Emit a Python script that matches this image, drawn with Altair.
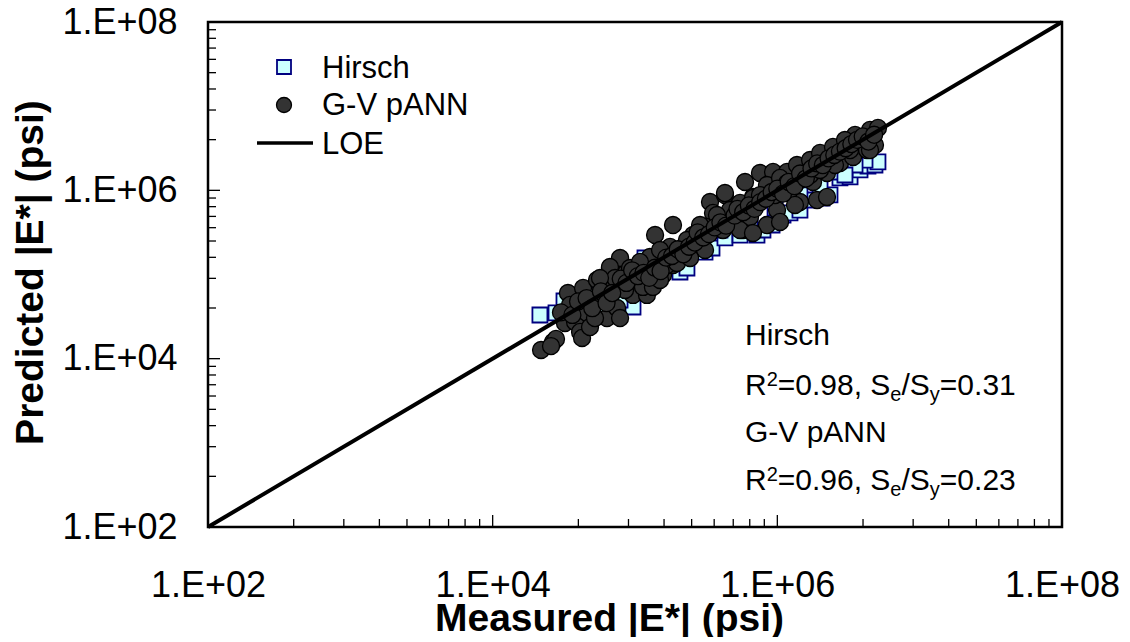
import altair as alt
import pandas as pd

# ---------------- data ----------------
# G-V pANN : log10 of measured and predicted |E*| (psi)
gv_meas_log = [
    4.340, 4.424, 4.445, 4.410,
    4.529, 4.635, 4.733, 4.775, 4.824, 4.860, 4.895,
    4.508, 4.579, 4.614, 4.663, 4.628, 4.684, 4.803, 4.874, 4.895, 4.986, 5.056, 5.084, 4.937, 5.105, 5.197, 5.267,
    5.527, 5.632, 5.738, 5.829, 5.548, 5.667, 5.787, 5.689, 5.759, 5.506, 5.408, 5.492, 5.365, 5.267, 5.246, 5.141,
    5.105, 5.225, 5.295, 5.387, 4.895, 4.824, 4.965, 4.860, 4.986, 5.056, 5.126, 4.754, 5.176,
    5.773, 5.878, 5.970, 6.068, 6.138, 6.230, 6.300, 6.391, 6.490, 6.581, 5.632, 5.829, 5.927, 6.019, 6.068, 6.159,
    6.251, 6.349, 6.440, 6.532, 6.630, 5.667, 5.808, 5.927, 5.998, 6.019, 6.159, 6.279, 6.349, 5.618, 5.738, 5.829,
    6.651, 6.707, 6.616, 6.686, 6.546, 6.475, 6.651,
    5.457, 5.576, 5.351, 5.176, 5.035, 4.930, 4.733, 4.789, 4.543, 4.719, 5.878, 6.089, 6.230, 6.405, 6.511, 6.300,
    6.124, 5.984,
    4.48, 4.56, 4.60, 4.66, 4.70, 4.76, 4.80, 4.84, 4.90, 4.94, 4.98, 5.02, 5.06, 5.10, 5.14, 5.18, 5.22, 5.26,
    5.30, 5.34, 5.38, 5.42, 5.44, 5.48, 5.52, 5.56, 5.60, 5.64, 5.70, 5.72, 5.76, 5.80, 5.84, 5.88, 5.92, 5.96,
    6.00, 6.04, 6.08, 6.12, 6.16, 6.20, 6.24, 6.28, 6.32, 6.36, 6.40, 6.44, 6.48, 6.52, 6.56, 6.60, 6.64, 6.68,
]
gv_pred_log = [
    4.103, 4.198, 4.234, 4.150,
    4.780, 4.840, 4.935, 4.899, 5.077, 4.970, 4.875,
    4.424, 4.436, 4.317, 4.543, 4.246, 4.376, 4.483, 4.602, 4.483, 4.757, 4.875, 4.757, 5.018, 5.089, 4.994, 5.113,
    5.861, 5.945, 5.850, 5.921, 5.731, 5.766, 5.671, 5.612, 5.529, 5.564, 5.469, 5.291, 5.410, 5.588, 5.327, 5.469,
    5.208, 5.113, 5.137, 5.196, 5.196, 5.089, 5.077, 4.958, 4.958, 4.852, 4.852, 4.958, 4.935,
    6.099, 6.206, 6.218, 6.218, 6.301, 6.360, 6.444, 6.515, 6.562, 6.562, 5.968, 5.909, 6.063, 6.147, 6.087, 6.123,
    6.099, 6.206, 6.325, 6.396, 6.479, 5.612, 5.683, 5.588, 5.766, 5.624, 5.861, 5.885, 5.921, 5.529, 5.529, 5.493,
    6.717, 6.741, 6.622, 6.539, 6.658, 6.598, 6.479,
    5.588, 5.707, 5.291, 5.291, 5.149, 4.816, 4.697, 4.757, 4.638, 4.483, 5.944, 6.004, 6.182, 6.301, 6.479, 6.242,
    5.826, 5.944,
    4.55, 4.52, 4.68, 4.72, 4.60, 4.80, 4.66, 4.78, 4.95, 4.90, 5.05, 4.98, 5.02, 4.96, 5.08, 5.04, 5.20, 5.22,
    5.30, 5.24, 5.33, 5.38, 5.50, 5.44, 5.48, 5.56, 5.62, 5.58, 5.70, 5.78, 5.74, 5.82, 5.78, 5.86, 5.90, 5.98,
    6.02, 5.96, 6.10, 6.05, 6.20, 6.14, 6.26, 6.32, 6.30, 6.38, 6.42, 6.46, 6.50, 6.55, 6.60, 6.64, 6.58, 6.66,
]
# Hirsch : log10 of measured and predicted |E*| (psi)
hirsch_meas_log = [
    4.332, 4.445, 4.501, 4.557, 4.649, 4.754, 4.986, 4.895, 5.070, 5.119, 5.316, 5.365, 5.492, 5.541, 5.457, 5.632,
    5.738, 5.857, 5.899, 5.963, 6.040, 6.089, 6.159, 6.244, 6.314, 6.370, 6.440, 6.511, 6.426, 6.581, 6.637, 6.686,
    6.707, 6.616, 6.546, 4.684, 4.824, 5.035, 5.176, 5.387, 5.597, 5.808, 5.984, 6.159, 6.300, 6.475,
]
hirsch_pred_log = [
    4.519, 4.543, 4.685, 4.697, 4.578, 4.638, 4.614, 4.697, 5.196, 5.149, 5.030, 5.077, 5.267, 5.315, 5.410, 5.434,
    5.469, 5.469, 5.529, 5.588, 5.707, 5.731, 5.766, 5.885, 5.909, 5.945, 6.147, 6.159, 6.218, 6.242, 6.289, 6.301,
    6.337, 6.360, 6.301, 4.757, 4.875, 5.053, 5.149, 5.351, 5.529, 5.624, 5.790, 5.945, 6.063, 6.182,
]
loe_values = [1e2, 1e8]

axis_ticks = [1e2, 1e4, 1e6, 1e8]
axis_tick_labels = ["1.E+02", "1.E+04", "1.E+06", "1.E+08"]
minor_multipliers = [4, 9, 16, 25, 36, 49, 64, 81]

series_names = ["Hirsch", "G-V pANN", "LOE"]
x_title = "Measured |E*| (psi)"
y_title = "Predicted |E*| (psi)"

# ---------------- tables ----------------
gv = pd.DataFrame({"m": [10 ** v for v in gv_meas_log], "p": [10 ** v for v in gv_pred_log]})
hi = pd.DataFrame({"m": [10 ** v for v in hirsch_meas_log], "p": [10 ** v for v in hirsch_pred_log]})
loe = pd.DataFrame({"m": loe_values, "p": loe_values})
major = pd.DataFrame({"m": axis_ticks, "p": axis_ticks})
minor_vals = [b * k for b in axis_ticks[:-1] for k in minor_multipliers]
minor = pd.DataFrame({"m": minor_vals, "p": minor_vals})

W, H = 854, 505
FONT = "Liberation Sans"

xs = alt.Scale(type="log", domain=[1e2, 1e8], nice=False)
ys = alt.Scale(type="log", domain=[1e2, 1e8], nice=False)

label_expr = " : ".join(
    f"datum.value == {v:g} ? '{l}'" for v, l in zip(axis_ticks, axis_tick_labels)
) + " : ''"

xaxis = alt.Axis(
    values=axis_ticks, labelExpr=label_expr, title=x_title,
    titleFont=FONT, titleFontSize=39, titleFontWeight="bold", titleColor="black",
    titleX=401, titleY=103, titleBaseline="alphabetic", titleAlign="center",
    labelFont=FONT, labelFontSize=36, labelColor="black", labelPadding=41, labelBaseline="top",
    labelFlush=False, labelOverlap=False, ticks=False, tickSize=0, domain=False, grid=False,
)
yaxis = alt.Axis(
    values=axis_ticks, labelExpr=label_expr, title=y_title,
    titleFont=FONT, titleFontSize=39, titleFontWeight="bold", titleColor="black",
    titleAngle=270, titleX=-166, titleY=250, titleBaseline="alphabetic", titleAlign="center",
    labelFont=FONT, labelFontSize=36, labelColor="black", labelPadding=31, labelAlign="right",
    labelBaseline="middle", labelFlush=False, labelOverlap=False, ticks=False, tickSize=0,
    domain=False, grid=False,
)

X = alt.X("m:Q", scale=xs, axis=xaxis)
Y = alt.Y("p:Q", scale=ys, axis=yaxis)

hirsch_pts = alt.Chart(hi).mark_point(
    shape="square", filled=True, fill="#CCFFFF", stroke="#000080", strokeWidth=1.8,
    size=225, opacity=1,
).encode(x=X, y=Y)

gv_pts = alt.Chart(gv).mark_point(
    shape="circle", filled=True, fill="#333333", stroke="#000000", strokeWidth=1.3,
    size=290, opacity=1,
).encode(x=X, y=Y)

loe_line = alt.Chart(loe).mark_line(color="black", strokeWidth=4).encode(x=X, y=Y)

# inward ticks
x_major = alt.Chart(major).mark_rule(color="black", strokeWidth=1.3).encode(
    x=X, y=alt.value(H), y2=alt.value(H - 12))
x_minor = alt.Chart(minor).mark_rule(color="black", strokeWidth=1.3).encode(
    x=X, y=alt.value(H), y2=alt.value(H - 8))
y_major = alt.Chart(major).mark_rule(color="black", strokeWidth=1.3).encode(
    y=Y, x=alt.value(0), x2=alt.value(12))
y_minor = alt.Chart(minor).mark_rule(color="black", strokeWidth=1.3).encode(
    y=Y, x=alt.value(0), x2=alt.value(8))


def txt(s, x, y, size, weight="normal"):
    return alt.Chart(pd.DataFrame({"t": [s]})).mark_text(
        font=FONT, fontSize=size, fontWeight=weight, color="black",
        align="left", baseline="alphabetic",
    ).encode(x=alt.value(x), y=alt.value(y), text="t:N")


one = pd.DataFrame({"a": [0]})
legend_layers = [
    alt.Chart(one).mark_point(shape="square", filled=True, fill="#CCFFFF", stroke="#000080",
                              strokeWidth=1.8, size=196, opacity=1).encode(x=alt.value(76), y=alt.value(45)),
    alt.Chart(one).mark_point(shape="circle", filled=True, fill="#333333", stroke="#000000",
                              strokeWidth=1.3, size=225, opacity=1).encode(x=alt.value(76), y=alt.value(83)),
    alt.Chart(one).mark_rule(color="black", strokeWidth=3.5).encode(
        x=alt.value(49), x2=alt.value(105), y=alt.value(121)),
    txt(series_names[0], 114, 56, 31),
    txt(series_names[1], 114, 93, 31),
    txt(series_names[2], 114, 132, 31),
]

# statistics annotation with super/subscripts
CW = {"R": .722, "2": .556, "=": .584, "0": .556, ".": .278, "9": .556, "8": .556, "6": .556,
      ",": .278, " ": .278, "S": .667, "e": .556, "/": .278, "y": .5, "3": .556, "1": .556,
      "H": .722, "i": .222, "r": .333, "s": .5, "c": .5, "h": .556, "G": .778, "-": .333,
      "V": .667, "p": .556, "A": .667, "N": .722}
MAIN, SMALL = 30, 20


def rich(pieces, x0, y0):
    out = []
    x = x0
    for s, kind in pieces:
        size = MAIN if kind == "n" else SMALL
        dy = {"n": 0, "sup": -9, "sub": 6}[kind]
        out.append(txt(s, x, y0 + dy, size))
        x += sum(CW.get(c, .556) for c in s) * size
    return out


ann = []
ann += rich([("Hirsch", "n")], 537, 323)
ann += rich([("R", "n"), ("2", "sup"), ("=0.98, S", "n"), ("e", "sub"), ("/S", "n"), ("y", "sub"),
             ("=0.31", "n")], 537, 373)
ann += rich([("G-V pANN", "n")], 537, 420)
ann += rich([("R", "n"), ("2", "sup"), ("=0.96, S", "n"), ("e", "sub"), ("/S", "n"), ("y", "sub"),
             ("=0.23", "n")], 537, 468)

chart = alt.layer(
    hirsch_pts, gv_pts, loe_line, x_major, x_minor, y_major, y_minor, *legend_layers, *ann
).properties(
    width=W, height=H,
    autosize=alt.AutoSizeParams(type="none"),
    padding={"left": 200, "top": 14, "right": 60, "bottom": 110},
    background="white",
).configure_view(stroke="black", strokeWidth=2.5)

chart.save("out.html", embed_options={"renderer": "svg", "actions": False})
